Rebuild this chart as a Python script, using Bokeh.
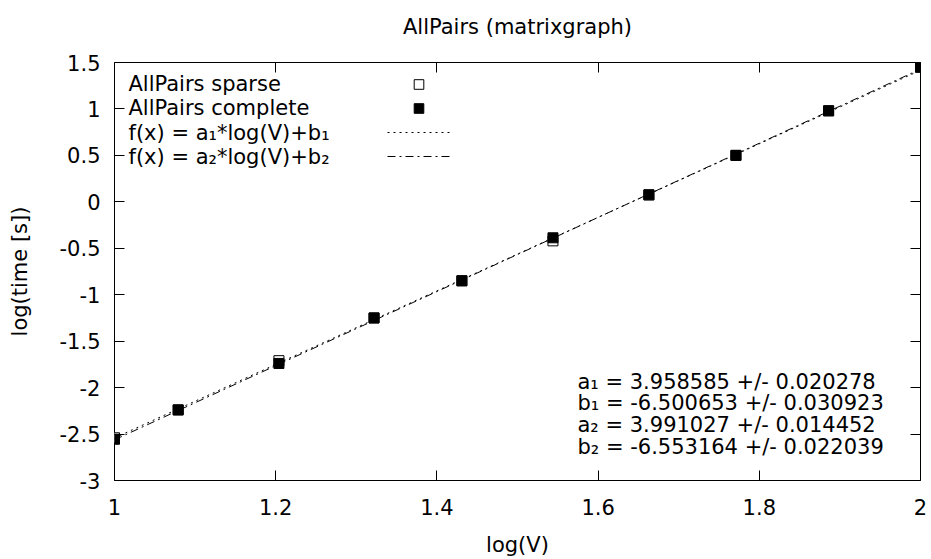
from bokeh.plotting import figure
from bokeh.models import (Range1d, FixedTicker, LinearAxis, Legend, LegendItem, Label, Title)
from bokeh.embed import file_html
from bokeh.resources import INLINE

# ---- data ----
log_v = [1.0, 1.079, 1.204, 1.322, 1.431, 1.544, 1.663, 1.771, 1.886, 2.0]
time_sparse = [-2.54, -2.24, -1.71, -1.25, -0.85, -0.42, 0.075, 0.50, 0.98, 1.45]
time_complete = [-2.556, -2.24, -1.74, -1.25, -0.85, -0.387, 0.075, 0.50, 0.98, 1.45]

fit_a = [3.958585, 3.991027]
fit_b = [-6.500653, -6.553164]
fit_x = [1.0, 2.0]

series_labels = ["AllPairs sparse", "AllPairs complete",
                 "f(x) = a\u2081*log(V)+b\u2081", "f(x) = a\u2082*log(V)+b\u2082"]
fit_text = ["a\u2081 = 3.958585 +/- 0.020278",
            "b\u2081 = -6.500653 +/- 0.030923",
            "a\u2082 = 3.991027 +/- 0.014452",
            "b\u2082 = -6.553164 +/- 0.022039"]

x_ticks = [1.0, 1.2, 1.4, 1.6, 1.8, 2.0]
x_tick_labels = ["1", "1.2", "1.4", "1.6", "1.8", "2"]
y_ticks = [-3.0, -2.5, -2.0, -1.5, -1.0, -0.5, 0.0, 0.5, 1.0, 1.5]
y_tick_labels = ["-3", "-2.5", "-2", "-1.5", "-1", "-0.5", "0", "0.5", "1", "1.5"]

FONT = "DejaVu Sans"
FS = "21px"

p = figure(width=931, height=559, output_backend="svg", toolbar_location=None,
           x_range=Range1d(1, 2), y_range=Range1d(-3, 1.5),
           min_border_left=114, min_border_right=11, min_border_top=62, min_border_bottom=75)
p.background_fill_color = "white"
p.border_fill_color = "white"
p.outline_line_color = "black"
p.outline_line_width = 1
p.outline_line_alpha = 1
p.grid.visible = False

p.title.text = "AllPairs (matrixgraph)"
p.title.align = "center"
p.title.text_font = FONT
p.title.text_font_size = FS
p.title.text_font_style = "normal"
p.title.text_color = "black"
p.title.standoff = 2


def style_axis(ax, ticks, labels, show_labels=True):
    ax.ticker = FixedTicker(ticks=ticks)
    if show_labels:
        ax.major_label_overrides = {t: l for t, l in zip(ticks, labels)}
    else:
        ax.major_label_overrides = {t: "" for t in ticks}
    ax.major_tick_in = 10
    ax.major_tick_out = 0
    ax.major_tick_line_color = "black"
    ax.minor_tick_line_color = None
    ax.axis_line_color = None
    ax.major_label_text_font = FONT
    ax.major_label_text_font_size = FS
    ax.major_label_text_color = "black"
    ax.axis_label_text_font = FONT
    ax.axis_label_text_font_size = FS
    ax.axis_label_text_font_style = "normal"
    ax.axis_label_text_color = "black"


style_axis(p.xaxis[0], x_ticks, x_tick_labels)
style_axis(p.yaxis[0], y_ticks, y_tick_labels)
p.xaxis[0].axis_label = "log(V)"
p.yaxis[0].axis_label = "log(time [s])"
p.xaxis[0].major_label_standoff = 18
p.yaxis[0].major_label_standoff = 14
p.xaxis[0].axis_label_standoff = 15
p.yaxis[0].axis_label_standoff = 25

top_ax = LinearAxis()
style_axis(top_ax, x_ticks, x_tick_labels, show_labels=False)
top_ax.major_label_standoff = 0
right_ax = LinearAxis()
style_axis(right_ax, y_ticks, y_tick_labels, show_labels=False)
right_ax.major_label_standoff = 0
p.add_layout(top_ax, "above")
p.add_layout(right_ax, "right")
# spacing between the frame and the title
p.add_layout(Title(text=" ", text_font_size="1px", standoff=20), "above")

r_sparse = p.scatter(log_v, time_sparse, marker="square", size=10,
                     fill_color="white", line_color="black", line_width=1)
r_complete = p.scatter(log_v, time_complete, marker="square", size=10,
                       fill_color="black", line_color="black", line_width=1)
fit_y1 = [fit_a[0] * x + fit_b[0] for x in fit_x]
fit_y2 = [fit_a[1] * x + fit_b[1] for x in fit_x]
r_f1 = p.line(fit_x, fit_y1, line_color="black", line_width=1, line_dash="2 4")
r_f2 = p.line(fit_x, fit_y2, line_color="black", line_width=1, line_dash="8 4 2 4")

legend = Legend(items=[LegendItem(label=" ", renderers=[r]) for r in
                       [r_sparse, r_complete, r_f1, r_f2]],
                location=(273, 312), orientation="vertical",
                glyph_width=63, glyph_height=24, label_height=24, label_width=0,
                spacing=0, padding=0, margin=0, label_standoff=0,
                label_text_font_size="8px",
                border_line_color=None, background_fill_alpha=0)
p.add_layout(legend)

legend_baselines = [397, 373, 348, 324]
for txt, yb in zip(series_labels, legend_baselines):
    p.add_layout(Label(x=14, y=yb, x_units="screen", y_units="screen", text=txt,
                       text_font=FONT, text_font_size=FS, text_color="black",
                       text_baseline="alphabetic", text_align="left"))

fit_baselines = [99.0, 77.3, 55.6, 33.9]
for txt, yb in zip(fit_text, fit_baselines):
    p.add_layout(Label(x=463, y=yb, x_units="screen", y_units="screen", text=txt,
                       text_font=FONT, text_font_size=FS, text_color="black",
                       text_baseline="alphabetic", text_align="left"))

open("out.html", "w").write(file_html(p, INLINE))
